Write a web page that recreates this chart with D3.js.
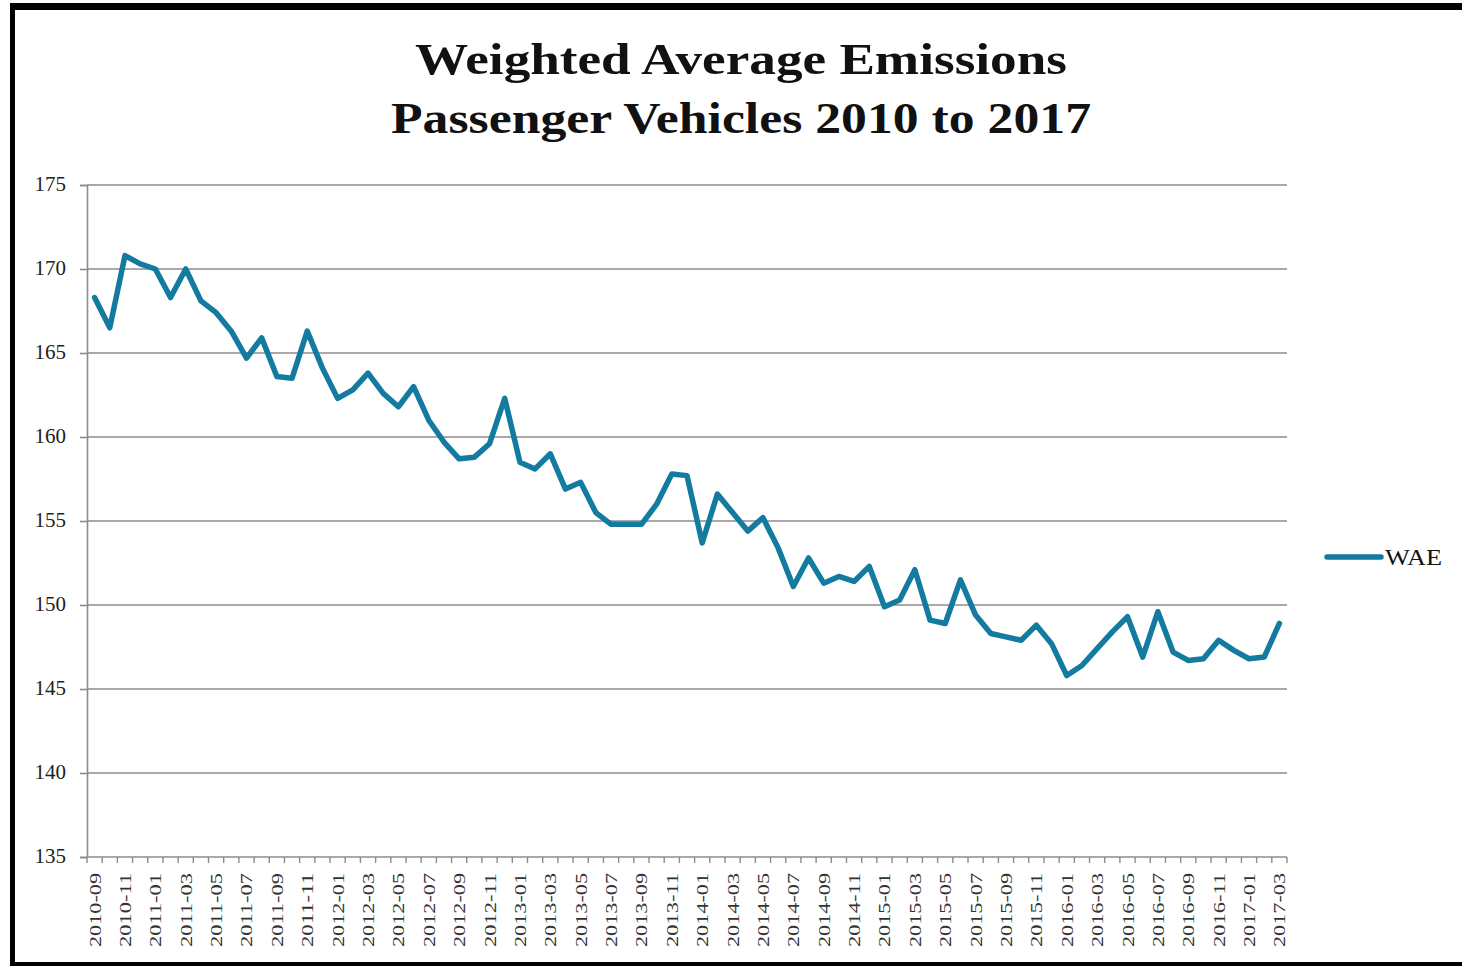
<!DOCTYPE html>
<html>
<head>
<meta charset="utf-8">
<script src="https://cdn.jsdelivr.net/npm/d3@7"></script>
<style>
  html, body { margin: 0; padding: 0; background: #fff; }
  svg { display: block; }
</style>
</head>
<body>
<svg id="chart" width="1462" height="966"></svg>
<script>
// Monthly categories, 2010-09 through 2017-03
const months = [
  "2010-09","2010-10","2010-11","2010-12",
  "2011-01","2011-02","2011-03","2011-04","2011-05","2011-06","2011-07","2011-08","2011-09","2011-10","2011-11","2011-12",
  "2012-01","2012-02","2012-03","2012-04","2012-05","2012-06","2012-07","2012-08","2012-09","2012-10","2012-11","2012-12",
  "2013-01","2013-02","2013-03","2013-04","2013-05","2013-06","2013-07","2013-08","2013-09","2013-10","2013-11","2013-12",
  "2014-01","2014-02","2014-03","2014-04","2014-05","2014-06","2014-07","2014-08","2014-09","2014-10","2014-11","2014-12",
  "2015-01","2015-02","2015-03","2015-04","2015-05","2015-06","2015-07","2015-08","2015-09","2015-10","2015-11","2015-12",
  "2016-01","2016-02","2016-03","2016-04","2016-05","2016-06","2016-07","2016-08","2016-09","2016-10","2016-11","2016-12",
  "2017-01","2017-02","2017-03"
];

// Weighted average emissions (WAE) per month
const wae = [
  168.3, 166.5, 170.8, 170.3,
  170.0, 168.3, 170.0, 168.1, 167.4, 166.3, 164.7, 165.9, 163.6, 163.5, 166.3, 164.1,
  162.3, 162.8, 163.8, 162.6, 161.8, 163.0, 161.0, 159.7, 158.7, 158.8, 159.6, 162.3,
  158.5, 158.1, 159.0, 156.9, 157.3, 155.5, 154.8, 154.8, 154.8, 156.0, 157.8, 157.7,
  153.7, 156.6, 155.5, 154.4, 155.2, 153.4, 151.1, 152.8, 151.3, 151.7, 151.4, 152.3,
  149.9, 150.3, 152.1, 149.1, 148.9, 151.5, 149.4, 148.3, 148.1, 147.9, 148.8, 147.7,
  145.8, 146.4, 147.4, 148.4, 149.3, 146.9, 149.6, 147.2, 146.7, 146.8, 147.9, 147.3,
  146.8, 146.9, 148.9
];

const yTicks = [135, 140, 145, 150, 155, 160, 165, 170, 175];
const xTickLabels = months.filter((m, i) => i % 2 === 0);
const titleLines = ["Weighted Average Emissions", "Passenger Vehicles 2010 to 2017"];
const seriesName = "WAE";

const svg = d3.select("#chart");
const W = 1462, H = 966;
const serif = "'Liberation Serif', 'DejaVu Serif', serif";
const lineColor = "#137aa0";
const gridColor = "#8c8c8c";

// frame
svg.append("rect").attr("x", 0).attr("y", 0).attr("width", W).attr("height", H).attr("fill", "#fff");
svg.append("rect").attr("x", 10).attr("y", 3).attr("width", W).attr("height", 7).attr("fill", "#000");
svg.append("rect").attr("x", 10).attr("y", 3).attr("width", 5).attr("height", H).attr("fill", "#000");
svg.append("rect").attr("x", 10).attr("y", 962).attr("width", W).attr("height", 6).attr("fill", "#000");

// title
const titleWidths = [652, 700];
const titleY = [74, 133];
titleLines.forEach((t, i) => {
  svg.append("text")
    .attr("x", 741).attr("y", titleY[i])
    .attr("text-anchor", "middle")
    .attr("font-family", serif)
    .attr("font-weight", "bold")
    .attr("font-size", 44)
    .attr("textLength", titleWidths[i])
    .attr("lengthAdjust", "spacingAndGlyphs")
    .attr("fill", "#111")
    .text(t);
});

const plot = { left: 87, right: 1287, top: 185, bottom: 857 };

const x = d3.scaleBand().domain(months).range([plot.left, plot.right]).paddingInner(0).paddingOuter(0);
const y = d3.scaleLinear().domain([135, 175]).range([plot.bottom, plot.top]);

// horizontal gridlines
svg.append("g")
  .selectAll("line")
  .data(yTicks.filter(v => v !== 135))
  .join("line")
  .attr("x1", plot.left).attr("x2", plot.right)
  .attr("y1", d => y(d)).attr("y2", d => y(d))
  .attr("stroke", gridColor).attr("stroke-width", 1.6);

// y axis
const yAxis = svg.append("g")
  .attr("transform", `translate(${plot.left},0)`)
  .call(d3.axisLeft(y).tickValues(yTicks).tickSize(7).tickPadding(14).tickFormat(d3.format("d")));
yAxis.select(".domain").attr("stroke", gridColor).attr("stroke-width", 1.6);
yAxis.selectAll(".tick line").attr("stroke", gridColor).attr("stroke-width", 1.6);
yAxis.selectAll(".tick text")
  .attr("font-family", serif).attr("font-size", 21).attr("fill", "#222")
  .attr("dy", "0.25em");

// x axis: ticks between categories, label on every second month
const xAxisG = svg.append("g").attr("transform", `translate(0,${plot.bottom})`);
xAxisG.append("line")
  .attr("x1", plot.left).attr("x2", plot.right)
  .attr("stroke", gridColor).attr("stroke-width", 1.6);
const boundaries = d3.range(months.length + 1).map(i => plot.left + i * x.step());
xAxisG.selectAll("line.tk")
  .data(boundaries)
  .join("line").attr("class", "tk")
  .attr("x1", d => d).attr("x2", d => d)
  .attr("y1", 0).attr("y2", 6)
  .attr("stroke", gridColor).attr("stroke-width", 1.4);
xAxisG.selectAll("text")
  .data(xTickLabels)
  .join("text")
  .attr("transform", d => `translate(${x(d) + x.bandwidth() / 2 + 6},16) rotate(-90)`)
  .attr("text-anchor", "end")
  .attr("font-family", serif)
  .attr("font-size", 17)
  .attr("textLength", 74)
  .attr("lengthAdjust", "spacingAndGlyphs")
  .attr("fill", "#333")
  .text(d => d);

// series line
const line = d3.line()
  .x((d, i) => x(months[i]) + x.bandwidth() / 2)
  .y(d => y(d));
svg.append("path")
  .datum(wae)
  .attr("d", line)
  .attr("fill", "none")
  .attr("stroke", lineColor)
  .attr("stroke-width", 5.5)
  .attr("stroke-linejoin", "round")
  .attr("stroke-linecap", "round");

// legend
svg.append("line")
  .attr("x1", 1327).attr("x2", 1381)
  .attr("y1", 557).attr("y2", 557)
  .attr("stroke", lineColor).attr("stroke-width", 5.5).attr("stroke-linecap", "round");
svg.append("text")
  .attr("x", 1385).attr("y", 565)
  .attr("font-family", serif).attr("font-size", 23).attr("fill", "#111")
  .attr("textLength", 57).attr("lengthAdjust", "spacingAndGlyphs")
  .text(seriesName);
</script>
</body>
</html>
